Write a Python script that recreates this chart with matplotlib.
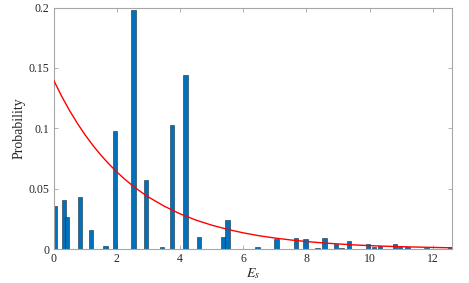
import matplotlib
matplotlib.use("Agg")
import matplotlib.pyplot as plt

# Bar data (E_s position, probability)
bar_x = [0.05, 0.34, 0.42, 0.83, 1.19, 1.65, 1.95, 2.53, 2.93, 3.44, 3.75, 4.18,
         4.60, 5.38, 5.50, 6.45, 7.05, 7.68, 7.97, 8.35, 8.58, 8.93, 9.11, 9.35,
         9.96, 10.15, 10.34, 10.80, 10.97, 11.20, 11.80, 12.55]
bar_p = [0.0352, 0.0407, 0.0266, 0.0432, 0.0158, 0.0028, 0.0980, 0.1980, 0.0573, 0.0014, 0.1028, 0.1438,
         0.0097, 0.0097, 0.0240, 0.0014, 0.0085, 0.0091, 0.0079, 0.0008, 0.0091, 0.0039, 0.0008, 0.0065,
         0.0039, 0.0014, 0.0022, 0.0039, 0.0017, 0.0017, 0.0006, 0.0017]

# Fitted curve
curve_x = [0, 0.25, 0.5, 0.75, 1, 1.25, 1.5, 1.75, 2, 2.25, 2.5, 2.75, 3, 3.5, 4, 4.5,
           5, 5.5, 6, 6.5, 7, 7.5, 8, 8.5, 9, 9.5, 10, 10.5, 11, 11.5, 12, 12.6]
curve_p = [0.140, 0.1269, 0.115, 0.1043, 0.0945, 0.0857, 0.0777, 0.0705, 0.0639, 0.0579,
           0.0525, 0.0476, 0.0431, 0.0355, 0.0292, 0.0240, 0.0198, 0.0163, 0.0134, 0.0110,
           0.0091, 0.0075, 0.0062, 0.0051, 0.0042, 0.0034, 0.0028, 0.0023, 0.0019, 0.0016,
           0.0013, 0.0010]

x_ticks = [0, 2, 4, 6, 8, 10, 12]
y_ticks = [0, 0.05, 0.1, 0.15, 0.2]
y_tick_labels = ["0", "0.05", "0.1", "0.15", "0.2"]

plt.rcParams['font.family'] = ['Liberation Serif', 'DejaVu Serif']
plt.rcParams['mathtext.fontset'] = 'stix'

fig = plt.figure(figsize=(4.69, 2.83), dpi=100)
ax = fig.add_axes([53.5/469, 1 - 249/283, (451.7-53.5)/469, (249-7.5)/283])

ax.bar(bar_x, bar_p, width=0.14, color='#0072BD', edgecolor='#1a2a3a', linewidth=0.4, zorder=2)
ax.plot(curve_x, curve_p, color='#FF0000', linewidth=1.0, zorder=3)

ax.set_xlim(0, 12.6)
ax.set_ylim(0, 0.2)
ax.set_xticks(x_ticks)
ax.set_yticks(y_ticks)
ax.set_yticklabels(y_tick_labels)

gray = '#a6a6a6'
for s in ax.spines.values():
    s.set_color(gray)
    s.set_linewidth(0.8)
ax.tick_params(direction='in', top=True, right=True, color=gray, length=3, width=0.6,
               labelsize=8.5, labelcolor='#262626', pad=3)

ax.set_ylabel('Probability', fontsize=10, color='#262626', labelpad=2)
ax.set_xlabel('$E_s$', fontsize=10, color='#262626', labelpad=1)

fig.savefig('out.png', dpi=100)
